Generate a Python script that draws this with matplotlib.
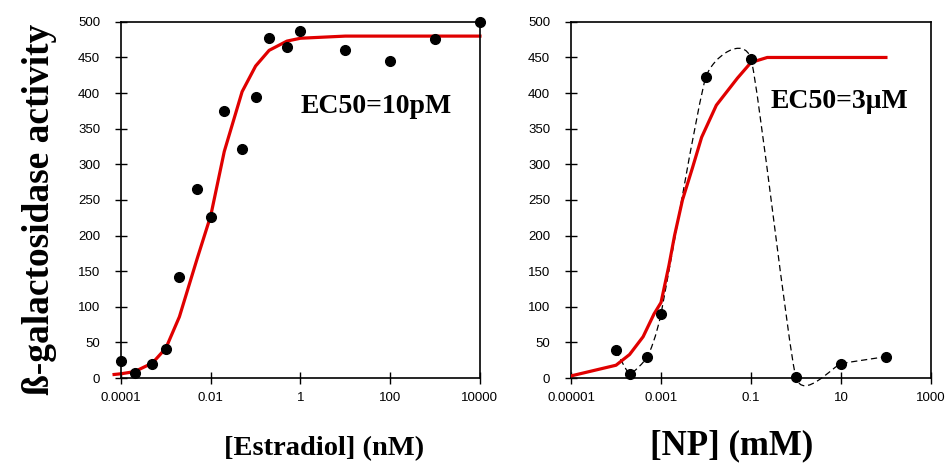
import numpy as np
import matplotlib
matplotlib.use('Agg')
import matplotlib.pyplot as plt
from matplotlib.path import Path
from matplotlib.patches import PathPatch

# Estradiol panel
e2_conc = [1e-4, 2e-4, 5e-4, 1e-3, 2e-3, 5e-3, 1e-2, 2e-2, 5e-2, 0.1, 0.2, 0.5,
           1, 10, 100, 1000, 10000]
e2_activity = [24, 7, 20, 41, 142, 265, 226, 375, 322, 395, 477, 465,
               487, 461, 445, 476, 500]
e2_fit_conc = [7e-5, 1e-4, 2e-4, 5e-4, 1e-3, 2e-3, 5e-3, 1e-2, 2e-2, 5e-2, 0.1,
               0.2, 0.5, 1, 10, 100, 10000]
e2_fit = [5, 6, 9, 21, 42, 86, 168, 228, 318, 402, 438, 460, 473, 477, 480, 480, 480]

# NP panel
np_conc = [1e-4, 2e-4, 5e-4, 1e-3, 1e-2, 0.1, 1, 10, 100]
np_activity = [39, 6, 30, 90, 423, 448, 1, 20, 30]
np_fit_conc = [1e-5, 1e-4, 2e-4, 4e-4, 7e-4, 1e-3, 1.5e-3, 2e-3, 3e-3, 5e-3, 8e-3,
               0.017, 0.05, 0.1, 0.23, 100]
np_fit = [3, 18, 33, 58, 90, 106, 158, 200, 250, 295, 338, 383, 421, 443, 450, 450]

ylabel = '\u00df-galactosidase activity'
e2_ticks = [1e-4, 1e-2, 1, 100, 1e4]
e2_ticklabels = ['0.0001', '0.01', '1', '100', '10000']
np_ticks = [1e-5, 1e-3, 0.1, 10, 1000]
np_ticklabels = ['0.00001', '0.001', '0.1', '10', '1000']

SERIF = ['Liberation Serif', 'DejaVu Serif']
SANS = ['Liberation Sans', 'DejaVu Sans']


def smooth_path(xs, ys, k=0.08):
    # Excel-style smoothed line: cubic Bezier segments in (log x, y) space
    lx = np.log10(xs)
    ys = np.asarray(ys, dtype=float)
    n = len(lx)
    verts = [(xs[0], ys[0])]
    codes = [Path.MOVETO]
    for i in range(n - 1):
        a = max(i - 1, 0)
        b = min(i + 2, n - 1)
        c1 = (lx[i] + k * (lx[i + 1] - lx[a]), ys[i] + k * (ys[i + 1] - ys[a]))
        c2 = (lx[i + 1] - k * (lx[b] - lx[i]), ys[i + 1] - k * (ys[b] - ys[i]))
        verts += [(10 ** c1[0], c1[1]), (10 ** c2[0], c2[1]), (xs[i + 1], ys[i + 1])]
        codes += [Path.CURVE4] * 3
    return Path(verts, codes)


def style_axes(ax, xlim, ticks, ticklabels):
    ax.set_xscale('log')
    ax.set_xlim(*xlim)
    ax.set_ylim(0, 500)
    ax.set_xticks(ticks)
    ax.set_xticklabels(ticklabels)
    ax.xaxis.set_minor_locator(matplotlib.ticker.NullLocator())
    ax.set_yticks(range(0, 501, 50))
    ax.tick_params(direction='inout', length=8, width=1, labelsize=9.5)
    ax.tick_params(axis='x', pad=6)
    ax.tick_params(axis='y', pad=11)
    for lab in ax.get_xticklabels() + ax.get_yticklabels():
        lab.set_family(SANS)
    for sp in ax.spines.values():
        sp.set_linewidth(1.2)


fig = plt.figure(figsize=(9.47, 4.65), dpi=100)
ax1 = fig.add_axes([0.1278, 0.187, 0.379, 0.766])
ax2 = fig.add_axes([0.603, 0.187, 0.380, 0.766])

ax1.plot(e2_fit_conc, e2_fit, color='#e00000', lw=2.3, zorder=2, clip_on=False)
ax1.plot(e2_conc, e2_activity, 'o', color='black', ms=7, zorder=3, clip_on=False)
style_axes(ax1, (1e-4, 1e4), e2_ticks, e2_ticklabels)
ax1.text(0.71, 0.761, 'EC50=10pM', transform=ax1.transAxes, ha='center', va='center',
         fontsize=20, fontweight='bold', family=SERIF)

ax2.add_patch(PathPatch(smooth_path(np_conc, np_activity), fill=False,
                        edgecolor='black', lw=0.9, linestyle=(0, (5, 3)),
                        clip_on=False, zorder=2))
ax2.plot(np_fit_conc, np_fit, color='#e00000', lw=2.3, zorder=3)
ax2.plot(np_conc, np_activity, 'o', color='black', ms=7, zorder=4, clip_on=False)
style_axes(ax2, (1e-5, 1e3), np_ticks, np_ticklabels)
ax2.text(0.746, 0.775, 'EC50=3\u03bcM', transform=ax2.transAxes, ha='center', va='center',
         fontsize=20, fontweight='bold', family=SERIF)

fig.text(0.042, 0.55, ylabel, rotation=90, ha='center', va='center',
         fontsize=27, fontweight='bold', family=SERIF)
fig.text(0.342, 0.022, '[Estradiol] (nM)', ha='center', va='baseline',
         fontsize=20.5, fontweight='bold', family=SERIF)
fig.text(0.773, 0.022, '[NP] (mM)', ha='center', va='baseline',
         fontsize=25, fontweight='bold', family=SERIF)

fig.savefig('out.png', dpi=100)
